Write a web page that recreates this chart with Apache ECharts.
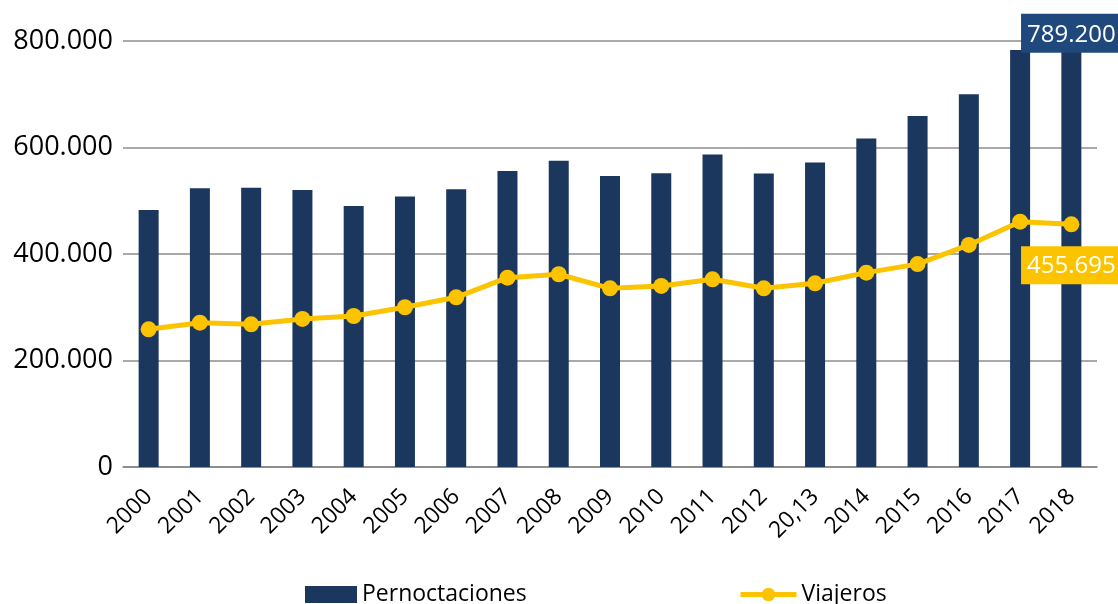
<!DOCTYPE html>
<html>
<head>
<meta charset="utf-8">
<script src="https://cdn.jsdelivr.net/npm/echarts@6/dist/echarts.min.js"></script>
<style>
  html, body { margin: 0; padding: 0; background: #fff; }
  #chart { width: 1118px; height: 604px; }
</style>
</head>
<body>
<div id="chart"></div>
<script>
// años (el 2013 aparece como "20,13" en el original)
const years = ["2000", "2001", "2002", "2003", "2004", "2005", "2006", "2007", "2008", "2009",
  "2010", "2011", "2012", "20,13", "2014", "2015", "2016", "2017", "2018"];
const pernoctaciones = [482600, 523400, 524600, 520000, 490000, 508000, 521500, 556000, 575000, 546500,
  551500, 587000, 551000, 572000, 617000, 659000, 700000, 783000, 789200];
const viajeros = [258600, 271000, 268000, 278000, 283600, 300000, 318700, 355500, 362000, 335600,
  340000, 352500, 335600, 345000, 365000, 381000, 417000, 460700, 455695];

const fmt = v => String(v).replace(/\B(?=(\d{3})+(?!\d))/g, ".");
const last = years.length - 1;
const font = "Open Sans";

const chart = echarts.init(document.getElementById("chart"));
chart.setOption({
  animation: false,
  textStyle: { fontFamily: font },
  grid: { left: 123, right: 21, top: 41, bottom: 137 },
  legend: [
    {
      left: 300, top: 578, itemWidth: 52, itemHeight: 17, itemGap: 5,
      icon: "rect",
      textStyle: { fontSize: 23, color: "#000", fontFamily: font },
      data: ["Pernoctaciones"]
    },
    {
      left: 733, top: 578, itemWidth: 56, itemHeight: 17, itemGap: 3,
      lineStyle: { width: 5 },
      textStyle: { fontSize: 23, color: "#000", fontFamily: font },
      data: ["Viajeros"]
    }
  ],
  xAxis: {
    type: "category",
    data: years,
    axisLine: { lineStyle: { color: "#868686", width: 1.5 } },
    axisTick: { length: 9, lineStyle: { color: "#868686", width: 1.5 } },
    axisLabel: { rotate: 45, fontSize: 23, color: "#000", margin: 26 }
  },
  yAxis: {
    type: "value",
    min: 0, max: 800000, interval: 200000,
    axisLine: { show: false },
    axisTick: { show: false },
    splitLine: { lineStyle: { color: "#8c8c8c", width: 1.5 } },
    axisLabel: { fontSize: 27, color: "#000", margin: 10, formatter: v => fmt(v) }
  },
  series: [
    {
      name: "Pernoctaciones",
      type: "bar",
      barWidth: 20,
      itemStyle: { color: "#1b375e" },
      data: pernoctaciones.map((v, i) => i === last ? {
        value: v,
        label: {
          show: true, position: "top", distance: -6,
          formatter: p => fmt(p.value),
          color: "#fff", fontSize: 24, backgroundColor: "#1f487c",
          padding: [9, 6, 6, 6]
        }
      } : v)
    },
    {
      name: "Viajeros",
      type: "line",
      symbol: "circle",
      symbolSize: 16,
      lineStyle: { color: "#fcc400", width: 5 },
      itemStyle: { color: "#fcc400" },
      z: 3,
      data: viajeros.map((v, i) => i === last ? {
        value: v,
        label: {
          show: true, position: "bottom", distance: 14,
          formatter: p => fmt(p.value),
          color: "#fff", fontSize: 24, backgroundColor: "#fcc400",
          padding: [8, 6, 6, 6]
        }
      } : v)
    }
  ]
});
</script>
</body>
</html>
